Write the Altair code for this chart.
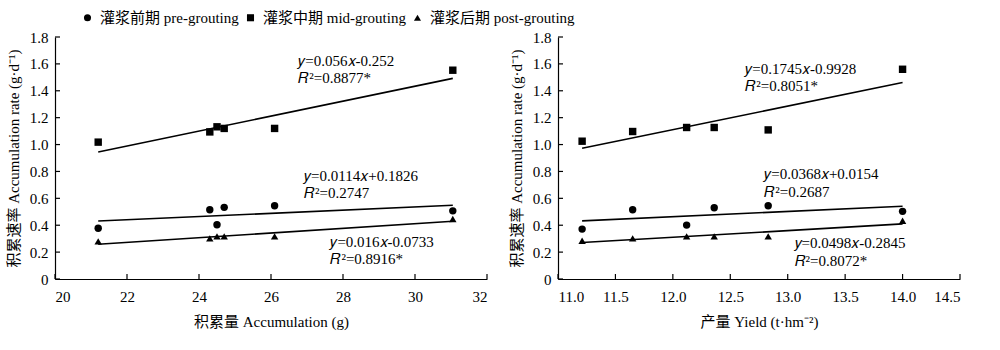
import altair as alt
import pandas as pd

FONT = "Liberation Serif, Times New Roman, Noto Sans CJK SC, serif"

series = ["灌浆前期 pre-grouting", "灌浆中期 mid-grouting", "灌浆后期 post-grouting"]
shapes = ["circle", "square", "triangle-up"]

# Left panel: accumulation (g)
acc_x = [21.2, 24.3, 24.5, 24.7, 26.1, 31.05]
acc_pre = [0.377, 0.515, 0.403, 0.533, 0.545, 0.507]
acc_mid = [1.018, 1.094, 1.132, 1.12, 1.12, 1.553]
acc_post = [0.28, 0.302, 0.317, 0.317, 0.317, 0.446]
acc_ticks = [20, 22, 24, 26, 28, 30, 32]
acc_eq = ["𝑦=0.056𝑥-0.252", "𝑅²=0.8877*", "𝑦=0.0114𝑥+0.1826", "𝑅²=0.2747",
          "𝑦=0.016𝑥-0.0733", "𝑅²=0.8916*"]
acc_eq_x = [26.76, 26.76, 26.92, 26.92, 27.65, 27.65]
acc_eq_y = [1.62, 1.493, 0.765, 0.639, 0.275, 0.149]

# Right panel: yield (t/hm2)
yld_x = [11.21, 11.65, 12.12, 12.36, 12.83, 14.0]
yld_pre = [0.371, 0.515, 0.401, 0.53, 0.545, 0.503]
yld_mid = [1.025, 1.097, 1.127, 1.127, 1.109, 1.56]
yld_post = [0.285, 0.302, 0.317, 0.317, 0.317, 0.433]
yld_ticks = [11.0, 11.5, 12.0, 12.5, 13.0, 13.5, 14.0, 14.5]
yld_eq = ["𝑦=0.1745𝑥-0.9928", "𝑅²=0.8051*", "𝑦=0.0368𝑥+0.0154", "𝑅²=0.2687",
          "𝑦=0.0498𝑥-0.2845", "𝑅²=0.8072*"]
yld_eq_x = [12.63, 12.63, 12.795, 12.795, 13.06, 13.06]
yld_eq_y = [1.56, 1.434, 0.78, 0.646, 0.267, 0.134]

y_ticks = [0, 0.2, 0.4, 0.6, 0.8, 1.0, 1.2, 1.4, 1.6, 1.8]
y_title = "积累速率 Accumulation rate (g·d⁻¹)"

H = 242

LEG = alt.Legend(orient="none", legendX=25, legendY=-27, direction="horizontal",
                 title=None, labelFont=FONT, labelFontSize=15, labelColor="black",
                 symbolFillColor="black", symbolStrokeColor="black", symbolStrokeWidth=0,
                 symbolSize=50, columnPadding=4, labelOffset=5, padding=0)


def panel(xs, pre, mid, post, xdom, xticks, xfmt, xtitle, eq, eqx, eqy, W, legend):
    rows = []
    for s, ys in zip(series, [pre, mid, post]):
        for x, y in zip(xs, ys):
            rows.append({"x": x, "y": y, "s": s})
    df = pd.DataFrame(rows)
    xscale = alt.Scale(domain=xdom, nice=False, zero=False)
    yscale = alt.Scale(domain=[0, 1.8], nice=False)
    xaxis = alt.Axis(values=xticks, format=xfmt, title=xtitle, ticks=False, grid=False,
                     labelPadding=10, titlePadding=10)
    yaxis = alt.Axis(values=y_ticks, title=y_title, ticks=False, grid=False,
                     labelExpr="datum.value == 0 ? '0' : format(datum.value, '.1f')",
                     labelPadding=7, titlePadding=8)
    X = alt.X("x:Q", scale=xscale, axis=xaxis)
    Y = alt.Y("y:Q", scale=yscale, axis=yaxis)

    if legend:
        shp = alt.Shape("s:N", scale=alt.Scale(domain=series, range=shapes), legend=LEG)
    else:
        shp = alt.Shape("s:N", scale=alt.Scale(domain=series, range=shapes), legend=None)
    pts = alt.Chart(df).mark_point(filled=True, color="black", opacity=1, size=55).encode(
        x=X, y=Y, shape=shp,
    )
    lines = alt.Chart(df).transform_regression("x", "y", groupby=["s"]).mark_line(
        color="black", strokeWidth=1.6).encode(x=X, y=Y, detail="s:N")
    ann = pd.DataFrame({"x": eqx, "y": eqy, "t": eq})
    txt = alt.Chart(ann).mark_text(align="left", baseline="middle", font=FONT,
                                   fontSize=15, color="black").encode(x=X, y=Y, text="t:N")
    ytk = alt.Chart(pd.DataFrame({"y": y_ticks})).mark_rule(color="black", strokeWidth=1.2).encode(
        y=Y, x=alt.value(0), x2=alt.value(5))
    xtk = alt.Chart(pd.DataFrame({"x": xticks})).mark_rule(color="black", strokeWidth=1.2).encode(
        x=X, y=alt.value(H), y2=alt.value(H - 5))
    return alt.layer(lines, pts, txt, ytk, xtk).properties(width=W, height=H)


left = panel(acc_x, acc_pre, acc_mid, acc_post, [20, 32], acc_ticks, "d",
             "积累量 Accumulation (g)", acc_eq, acc_eq_x, acc_eq_y, 432, True)
right = panel(yld_x, yld_pre, yld_mid, yld_post, [11, 14.5], yld_ticks, ".1f",
              "产量 Yield  (t·hm⁻²)", yld_eq, yld_eq_x, yld_eq_y, 402, False)

chart = alt.hconcat(left, right, spacing=21).resolve_scale(
    x="independent"
).properties(
    padding={"left": 6, "top": 10, "right": 5, "bottom": 5}, background="white"
).configure_view(stroke=None).configure_axis(
    labelFont=FONT, titleFont=FONT, labelFontSize=15, titleFontSize=15,
    titleFontWeight="normal", labelColor="black", titleColor="black",
    domainColor="black", domainWidth=1.2
)

chart.save("out.html", embed_options={"renderer": "svg", "actions": False})
